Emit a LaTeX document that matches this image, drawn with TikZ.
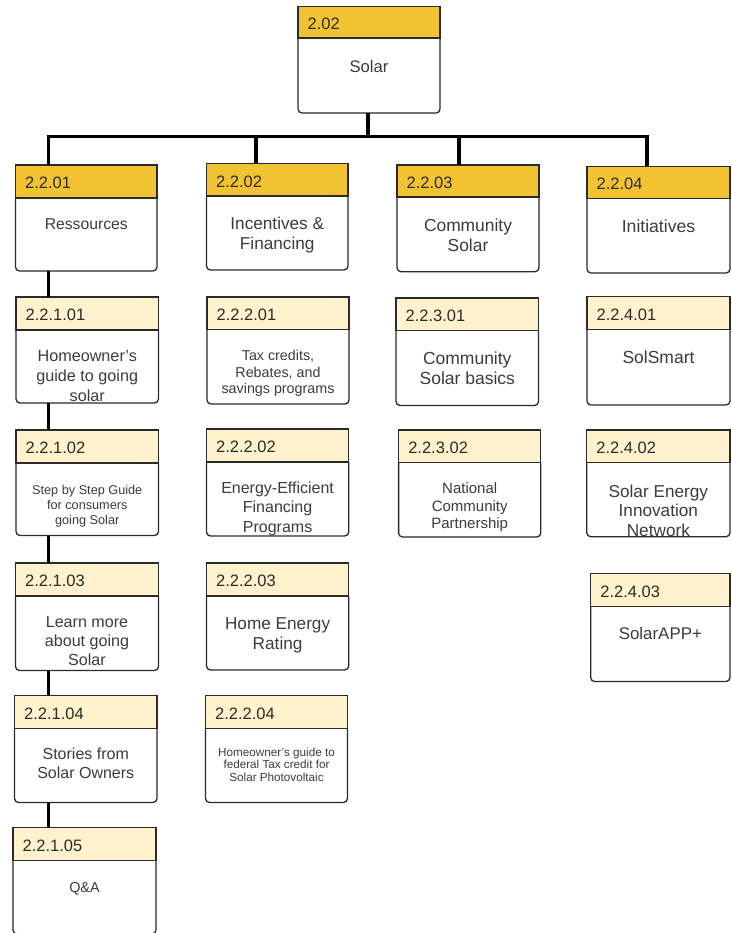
\documentclass[tikz,border=0pt]{standalone}
\usepackage{fontspec}
\setmainfont{Liberation Sans}
\definecolor{hdark}{HTML}{F1C232}
\definecolor{hlight}{HTML}{FFF2CC}
\definecolor{boxline}{HTML}{2A2A2A}
\definecolor{hdrtext}{HTML}{2B2B2B}
\definecolor{bodytext}{HTML}{3C3C3C}
\tikzset{
  frame/.style={rectangle, draw=none, inner sep=0pt, outer sep=0pt},
  edge/.style={draw=boxline, line width=1.3pt},
  hdr/.style={anchor=base west, inner sep=0pt, text=hdrtext, font=\fontsize{16.5}{19}\selectfont},
  bodyt/.style={anchor=north, inner sep=0pt, align=center, text=bodytext},
  conn/.style={draw=black, line width=3.6pt, line join=miter}
}
\newcommand{\ubox}[8]{%
  \pgfmathsetmacro{\uw}{#4-#2}%
  \pgfmathsetmacro{\uh}{#5-#3}%
  \pgfmathsetmacro{\ucx}{(#2+#4)/2}%
  \def\uname{#1}%
  \node[frame, minimum width=\uw pt, minimum height=\uh pt] (#1) at ({(#2+#4)/2},{(#3+#5)/2}) {};
  \fill[#7] (#1.north west) rectangle (#4,#6);
  \draw[edge] (#1.north west) rectangle (#4,#6);
  \draw[edge, rounded corners=4pt] (#2,#6) -- (#1.south west) -- (#1.south east) -- (#4,#6);
  \node[hdr] (#1-id) at ({#2+9.5},{(#3+#6)/2+7.4}) {#8};
}
% \utext{first line centre y}{font size}{line spacing}{text}
\newcommand{\utext}[4]{%
  \node[bodyt, font=\fontsize{#2}{#3}\selectfont] (\uname-txt) at (\ucx,{#1-0.44*#2}) {\rule{0pt}{0.8em}#4};
}
\begin{document}
\begin{tikzpicture}[x=1pt,y=-1pt]
\fill[white] (0,0) rectangle (731,933);
\useasboundingbox (0,0) rectangle (731,933);

% root
\ubox{top}{298}{6.5}{440}{113}{38}{hdark}{2.02}
\utext{66.7}{16.7}{20}{Solar}

% level 2
\ubox{b1}{15.5}{165}{157}{271}{198}{hdark}{2.2.01}
\utext{223.3}{15.7}{20}{Ressources}
\ubox{b2}{206.5}{163.3}{348}{270}{196}{hdark}{2.2.02}
\utext{223}{17.2}{20}{Incentives \&\\Financing}
\ubox{b3}{397}{165}{539}{271.7}{197}{hdark}{2.2.03}
\utext{225}{17.4}{20}{Community\\Solar}
\ubox{b4}{587}{166.5}{730}{273}{198.5}{hdark}{2.2.04}
\utext{226}{17.6}{20}{Initiatives}

% column 1
\ubox{c11}{16}{297}{158.5}{403}{330}{hlight}{2.2.1.01}
\utext{355}{16.2}{20}{Homeowner’s\\guide to going\\solar}
\ubox{c12}{16}{430}{158.5}{535.5}{463}{hlight}{2.2.1.02}
\utext{489.3}{12.7}{15}{Step by Step Guide\\for consumers\\going Solar}
\ubox{c13}{15.5}{563}{158.5}{670.5}{596}{hlight}{2.2.1.03}
\utext{621.7}{16.1}{19}{Learn more\\about going\\Solar}
\ubox{c14}{14.5}{695.5}{157}{802.5}{728.5}{hlight}{2.2.1.04}
\utext{753.3}{16}{19.5}{Stories from\\Solar Owners}
\ubox{c15}{13}{827.5}{156}{934}{860.5}{hlight}{2.2.1.05}
\utext{887.3}{14.4}{18}{Q\&A}

% column 2
\ubox{c21}{207}{297}{349}{404}{329.5}{hlight}{2.2.2.01}
\utext{355}{14.3}{16.7}{Tax credits,\\Rebates, and\\savings programs}
\ubox{c22}{206.5}{429}{348.7}{536}{462}{hlight}{2.2.2.02}
\utext{487.3}{16}{19.5}{Energy-Efficient\\Financing\\Programs}
\ubox{c23}{206.5}{563}{348.7}{670}{596}{hlight}{2.2.2.03}
\utext{623.3}{17.2}{20}{Home Energy\\Rating}
\ubox{c24}{205.5}{695.5}{347.5}{802.5}{728.5}{hlight}{2.2.2.04}
\utext{751.7}{11.7}{12.8}{Homeowner’s guide to\\federal Tax credit for\\Solar Photovoltaic}

% column 3
\ubox{c31}{396}{298}{538.5}{405.5}{330.7}{hlight}{2.2.3.01}
\utext{358.3}{17.5}{20}{Community\\Solar basics}
\ubox{c32}{398.6}{430}{540.8}{537}{462.7}{hlight}{2.2.3.02}
\utext{488.3}{15}{17.5}{National\\Community\\Partnership}

% column 4
\ubox{c41}{587}{296.7}{730}{405}{329.5}{hlight}{2.2.4.01}
\utext{356.7}{17.5}{20}{SolSmart}
\ubox{c42}{586.7}{430}{730}{536.7}{462.7}{hlight}{2.2.4.02}
\utext{490.7}{17.2}{19.7}{Solar Energy\\Innovation\\Network}
\ubox{c43}{590.7}{573.3}{730}{681.5}{606.7}{hlight}{2.2.4.03}
\utext{633}{16.9}{20}{SolarAPP+}

% connectors
\coordinate (bus0) at (367.7,136.7);
\coordinate (d1) at (48.5,136.7);
\coordinate (d2) at (255.7,136.7);
\coordinate (d3) at (459,136.7);
\coordinate (d4) at (647,136.7);
\draw[conn] (top.south -| bus0) -- (bus0);
\draw[conn] (d1 |- b1.north) -- (d1) -- (d4) -- (d4 |- b4.north);
\draw[conn] (d2) -- (d2 |- b2.north);
\draw[conn] (d3) -- (d3 |- b3.north);
\draw[conn] (d1 |- b1.south) -- (d1 |- c11.north);
\draw[conn] (d1 |- c11.south) -- (d1 |- c12.north);
\draw[conn] (d1 |- c12.south) -- (d1 |- c13.north);
\draw[conn] (d1 |- c13.south) -- (d1 |- c14.north);
\draw[conn] (d1 |- c14.south) -- (d1 |- c15.north);
\end{tikzpicture}
\end{document}
